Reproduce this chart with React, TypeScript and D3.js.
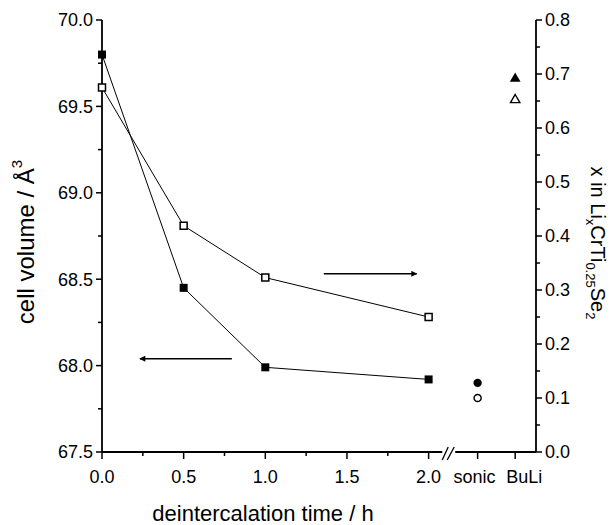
import React from "react";
import * as d3 from "d3";

// deintercalation time (h)
const times = [0, 0.5, 1.0, 2.0];
// cell volume (Å^3), filled squares, left axis
const cellVolume = [69.8, 68.45, 67.99, 67.92];
// x in LixCrTi0.25Se2, open squares, right axis
const liContent = [0.675, 0.419, 0.323, 0.25];

// extra samples after the axis break
const extraLabels = ["sonic", "BuLi"];
const extraPos = [2.3, 2.53];
const extraVolume = [67.9, 69.66];
const extraLi = [0.1, 0.652];

const xMajor = [0, 0.5, 1.0, 1.5, 2.0];
const xMinor = [0.25, 0.75, 1.25, 1.75];
const leftMajor = [67.5, 68.0, 68.5, 69.0, 69.5, 70.0];
const leftMinor = [67.75, 68.25, 68.75, 69.25, 69.75];
const rightMajor = [0, 0.1, 0.2, 0.3, 0.4, 0.5, 0.6, 0.7, 0.8];
const rightMinor = [0.05, 0.15, 0.25, 0.35, 0.45, 0.55, 0.65, 0.75];

const W = 613, H = 525;
const left = 102, right = 536, top = 20, bottom = 452;
const FONT = "'Liberation Sans', Arial, sans-serif";

export default function App() {
  const x = d3.scaleLinear().domain([0, 2.6575]).range([left, right]);
  const yL = d3.scaleLinear().domain([67.5, 70]).range([bottom, top]);
  const yR = d3.scaleLinear().domain([0, 0.8]).range([bottom, top]);

  const lineL = d3.line<number>().x((d, i) => x(times[i])).y(d => yL(d));
  const lineR = d3.line<number>().x((d, i) => x(times[i])).y(d => yR(d));

  const square = d3.symbol(d3.symbolSquare, 64)();
  const circle = d3.symbol(d3.symbolCircle, 55)();
  const triangle = d3.symbol(d3.symbolTriangle, 50)();

  const xBreak = x(2.12);
  // small nudges so the category labels sit as in the original
  const extraShift = [-3, 9];

  return (
    <svg width={W} height={H} style={{ display: "block", position: "absolute", left: 0, top: 0 }} fontFamily={FONT}>
      <defs>
        <marker id="ah" viewBox="0 0 10 10" refX="9" refY="5" markerWidth="8" markerHeight="6" markerUnits="userSpaceOnUse" orient="auto">
          <path d="M0,0 L10,5 L0,10 z" fill="#000" />
        </marker>
      </defs>

      {/* axes */}
      <g stroke="#000" strokeWidth={1.8} fill="none">
        <line x1={left} x2={left} y1={top} y2={bottom} />
        <line x1={right} x2={right} y1={top} y2={bottom} />
        <line x1={left} x2={xBreak - 6} y1={bottom} y2={bottom} />
        <line x1={xBreak + 7} x2={right} y1={bottom} y2={bottom} />
      </g>
      <g stroke="#000" strokeWidth={1.3}>
        <line x1={xBreak - 6} y1={bottom + 8} x2={xBreak} y2={bottom - 5} />
        <line x1={xBreak - 1} y1={bottom + 8} x2={xBreak + 6} y2={bottom - 5} />
      </g>

      {/* ticks */}
      <g stroke="#000" strokeWidth={1.5}>
        {xMajor.map(t => <line key={"xM" + t} x1={x(t)} x2={x(t)} y1={bottom} y2={bottom + 7} />)}
        {xMinor.map(t => <line key={"xm" + t} x1={x(t)} x2={x(t)} y1={bottom} y2={bottom + 4} />)}
        {extraPos.map(t => <line key={"xe" + t} x1={x(t)} x2={x(t)} y1={bottom} y2={bottom + 7} />)}
        {leftMajor.map(t => <line key={"lM" + t} x1={left - 6} x2={left} y1={yL(t)} y2={yL(t)} />)}
        {leftMinor.map(t => <line key={"lm" + t} x1={left - 4} x2={left} y1={yL(t)} y2={yL(t)} />)}
        {rightMajor.map(t => <line key={"rM" + t} x1={right} x2={right + 6} y1={yR(t)} y2={yR(t)} />)}
        {rightMinor.map(t => <line key={"rm" + t} x1={right} x2={right + 4} y1={yR(t)} y2={yR(t)} />)}
      </g>

      <g fontSize={18} fill="#000">
        {xMajor.map(t => (
          <text key={"xl" + t} x={x(t)} y={bottom + 31} textAnchor="middle">{d3.format(".1f")(t)}</text>
        ))}
        {extraPos.map((t, i) => (
          <text key={"el" + t} x={x(t) + extraShift[i]} y={bottom + 31} textAnchor="middle">{extraLabels[i]}</text>
        ))}
        {leftMajor.map(t => (
          <text key={"ll" + t} x={left - 9} y={yL(t)} dy="0.35em" textAnchor="end">{d3.format(".1f")(t)}</text>
        ))}
        {rightMajor.map(t => (
          <text key={"rl" + t} x={right + 9} y={yR(t)} dy="0.35em" textAnchor="start">{d3.format(".1f")(t)}</text>
        ))}
      </g>

      {/* axis titles */}
      <text x={(left + right) / 2 - 56} y={521} fontSize={22} textAnchor="middle">deintercalation time / h</text>
      <text transform={`translate(34,242) rotate(-90)`} fontSize={24} textAnchor="middle">
        cell volume / Å<tspan fontSize={15} dy={-12}>3</tspan>
      </text>
      <text transform={`translate(591,243) rotate(90)`} fontSize={20} textAnchor="middle">
        x in Li<tspan fontSize={13} dy={5}>x</tspan><tspan dy={-5}>CrTi</tspan><tspan fontSize={13} dy={5}>0.25</tspan><tspan dy={-5}>Se</tspan><tspan fontSize={13} dy={5}>2</tspan>
      </text>

      {/* series lines */}
      <path d={lineL(cellVolume) || ""} fill="none" stroke="#000" strokeWidth={1} />
      <path d={lineR(liContent) || ""} fill="none" stroke="#000" strokeWidth={1} />

      {/* arrows */}
      <line x1={x(0.795)} x2={x(0.232)} y1={yL(68.04)} y2={yL(68.04)} stroke="#000" strokeWidth={1.5} markerEnd="url(#ah)" />
      <line x1={x(1.358)} x2={x(1.927)} y1={yR(0.33)} y2={yR(0.33)} stroke="#000" strokeWidth={1.5} markerEnd="url(#ah)" />

      {/* markers */}
      {cellVolume.map((v, i) => (
        <path key={"fs" + i} d={square || ""} transform={`translate(${x(times[i])},${yL(v)})`} fill="#000" />
      ))}
      {liContent.map((v, i) => (
        <path key={"os" + i} d={d3.symbol(d3.symbolSquare, 49)() || ""} transform={`translate(${x(times[i])},${yR(v)})`} fill="#fff" stroke="#000" strokeWidth={1.5} />
      ))}
      <path d={circle || ""} transform={`translate(${x(extraPos[0])},${yL(extraVolume[0])})`} fill="#000" />
      <path d={d3.symbol(d3.symbolCircle, 40)() || ""} transform={`translate(${x(extraPos[0])},${yR(extraLi[0])})`} fill="#fff" stroke="#000" strokeWidth={1.4} />
      <path d={triangle || ""} transform={`translate(${x(extraPos[1])},${yL(extraVolume[1])})`} fill="#000" />
      <path d={d3.symbol(d3.symbolTriangle, 38)() || ""} transform={`translate(${x(extraPos[1])},${yR(extraLi[1])})`} fill="#fff" stroke="#000" strokeWidth={1.4} />
    </svg>
  );
}
